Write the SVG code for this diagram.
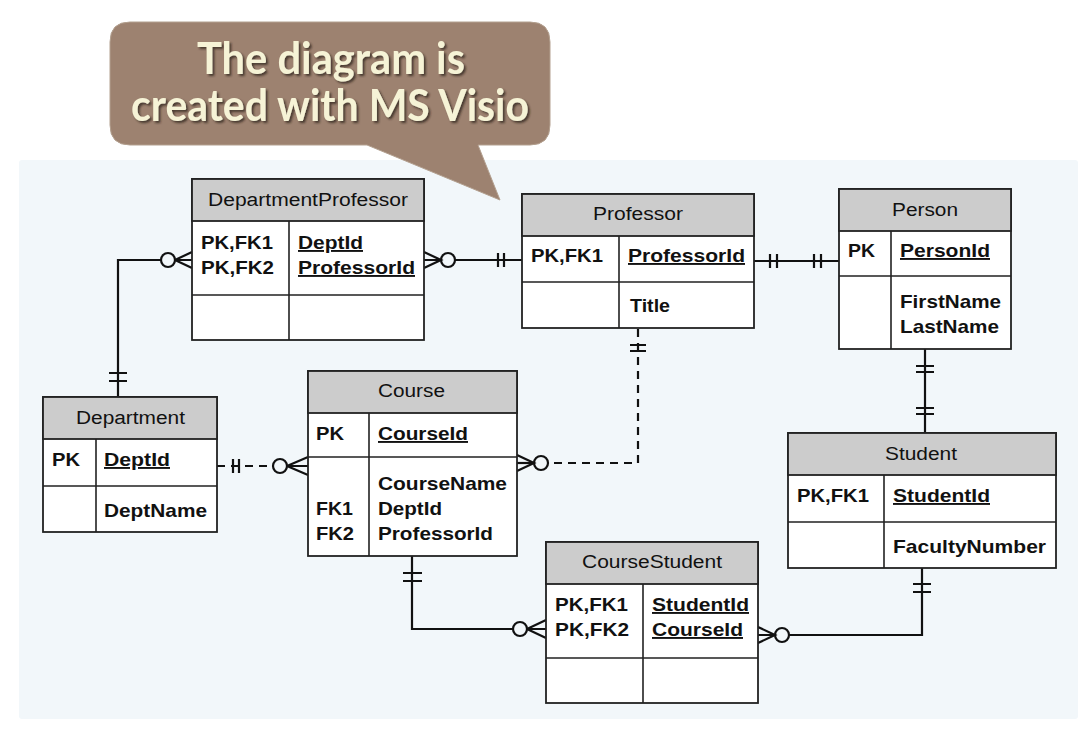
<svg xmlns="http://www.w3.org/2000/svg" width="1092" height="729" viewBox="0 0 1092 729">
  <defs>
    <style>
      .hdr{fill:#cccccc;stroke:#222;stroke-width:1.8}
      .body{fill:#ffffff;stroke:#222;stroke-width:1.8}
      .sep{stroke:#222;stroke-width:1.6;fill:none}
      .ht{font-family:"Liberation Sans",Arial,sans-serif;font-size:18px;fill:#111}
      .bt{font-family:"Liberation Sans",Arial,sans-serif;font-size:19px;font-weight:bold;fill:#111}
      .u{text-decoration:underline}
      .ln{stroke:#111;stroke-width:2.2;fill:none}
      .dash{stroke:#111;stroke-width:2.2;fill:none;stroke-dasharray:8 6}
      .circ{stroke:#111;stroke-width:2.2;fill:#f2f7fa}
      .call{font-family:Lato,"Open Sans",sans-serif;font-size:44px;font-weight:bold;fill:#f6f3d6}
    </style>
    <filter id="sh" x="-10%" y="-20%" width="120%" height="150%">
      <feDropShadow dx="2" dy="2" stdDeviation="1" flood-color="#2e231b" flood-opacity="0.75"/>
    </filter>
  </defs>

  <!-- background panel -->
  <rect x="19" y="160" width="1059" height="559" rx="3" fill="#f2f7fa"/>

  <!-- callout -->
  <g id="callout">
    <path d="M130,22 H530 Q550,22 550,42 V125 Q550,145 530,145 H478 L500,200 L367,145 H130 Q110,145 110,125 V42 Q110,22 130,22 Z" fill="#9d8270" stroke="#b3a08f" stroke-width="1"/>
    <g filter="url(#sh)">
      <text class="call" x="197" y="74" textLength="268" lengthAdjust="spacingAndGlyphs">The diagram is</text>
      <text class="call" x="131" y="121" textLength="398" lengthAdjust="spacingAndGlyphs">created with MS Visio</text>
    </g>
  </g>

  <!-- connectors -->
  <g id="connectors">
    <!-- DepartmentProfessor left - Department top -->
    <path class="ln" d="M118,397 V260 H192"/>
    <circle class="circ" cx="168" cy="260" r="7"/>
    <path class="ln" d="M175,260 L192,252 M175,260 L192,268"/>
    <path class="ln" d="M109,373 H127 M109,381 H127"/>

    <!-- DepartmentProfessor right - Professor left -->
    <path class="ln" d="M424,260 H522"/>
    <circle class="circ" cx="448" cy="260" r="7"/>
    <path class="ln" d="M424,252 L441,260 L424,268"/>
    <path class="ln" d="M498,253 V267 M504,253 V267"/>

    <!-- Professor - Person -->
    <path class="ln" d="M754,261 H839"/>
    <path class="ln" d="M770,254 V268 M777,254 V268 M814,254 V268 M821,254 V268"/>

    <!-- Professor bottom - Course right (dashed) -->
    <path class="dash" d="M638,329 V463 H548"/>
    <path class="ln" d="M630,345 H646 M630,351 H646"/>
    <path class="ln" d="M517,463 H534"/>
    <circle class="circ" cx="541" cy="463" r="7"/>
    <path class="ln" d="M517,455 L534,463 L517,471"/>

    <!-- Department - Course (dashed) -->
    <path class="dash" d="M217,466 H273"/>
    <path class="ln" d="M233,466 H239 M233,459 V473 M239,459 V473"/>
    <circle class="circ" cx="280" cy="466" r="7"/>
    <path class="ln" d="M287,466 H308 M287,466 L308,457 M287,466 L308,475"/>

    <!-- Course bottom - CourseStudent left -->
    <path class="ln" d="M412,556 V629 H546"/>
    <path class="ln" d="M403,573 H422 M403,581 H422"/>
    <circle class="circ" cx="520" cy="629" r="7"/>
    <path class="ln" d="M527,629 L546,620 M527,629 L546,638"/>

    <!-- Person - Student -->
    <path class="ln" d="M925,349 V433"/>
    <path class="ln" d="M916,366 H934 M916,372 H934 M916,408 H934 M916,414 H934"/>

    <!-- Student bottom - CourseStudent right -->
    <path class="ln" d="M922,568 V635 H758"/>
    <path class="ln" d="M913,584 H931 M913,592 H931"/>
    <circle class="circ" cx="782" cy="635" r="7"/>
    <path class="ln" d="M758,627 L775,635 L758,643"/>
  </g>

  <!-- DepartmentProfessor -->
  <g id="DepartmentProfessor">
    <rect class="body" x="192" y="179" width="232" height="161"/>
    <rect class="hdr" x="192" y="179" width="232" height="42"/>
    <path class="sep" d="M192,295 H424 M289,221 V340"/>
    <text class="ht" x="208" y="206" textLength="200" lengthAdjust="spacingAndGlyphs">DepartmentProfessor</text>
    <text class="bt" x="201" y="249" textLength="72" lengthAdjust="spacingAndGlyphs">PK,FK1</text>
    <text class="bt" x="201" y="274" textLength="73" lengthAdjust="spacingAndGlyphs">PK,FK2</text>
    <text class="bt u" x="298" y="249" textLength="65" lengthAdjust="spacingAndGlyphs">DeptId</text>
    <text class="bt u" x="298" y="274" textLength="117" lengthAdjust="spacingAndGlyphs">ProfessorId</text>
  </g>

  <!-- Professor -->
  <g id="Professor">
    <rect class="body" x="522" y="194" width="232" height="134"/>
    <rect class="hdr" x="522" y="194" width="232" height="42"/>
    <path class="sep" d="M522,282 H754 M619,236 V328"/>
    <text class="ht" x="593" y="220" textLength="90" lengthAdjust="spacingAndGlyphs">Professor</text>
    <text class="bt" x="531" y="262" textLength="72" lengthAdjust="spacingAndGlyphs">PK,FK1</text>
    <text class="bt u" x="628" y="262" textLength="117" lengthAdjust="spacingAndGlyphs">ProfessorId</text>
    <text class="bt" x="630" y="312" textLength="40" lengthAdjust="spacingAndGlyphs">Title</text>
  </g>

  <!-- Person -->
  <g id="Person">
    <rect class="body" x="839" y="189" width="172" height="160"/>
    <rect class="hdr" x="839" y="189" width="172" height="42"/>
    <path class="sep" d="M839,276 H1011 M891,231 V349"/>
    <text class="ht" x="892" y="216" textLength="66" lengthAdjust="spacingAndGlyphs">Person</text>
    <text class="bt" x="848" y="257" textLength="27" lengthAdjust="spacingAndGlyphs">PK</text>
    <text class="bt u" x="900" y="257" textLength="90" lengthAdjust="spacingAndGlyphs">PersonId</text>
    <text class="bt" x="900" y="308" textLength="101" lengthAdjust="spacingAndGlyphs">FirstName</text>
    <text class="bt" x="900" y="333" textLength="99" lengthAdjust="spacingAndGlyphs">LastName</text>
  </g>

  <!-- Department -->
  <g id="Department">
    <rect class="body" x="43" y="397" width="174" height="135"/>
    <rect class="hdr" x="43" y="397" width="174" height="42"/>
    <path class="sep" d="M43,486 H217 M96,439 V532"/>
    <text class="ht" x="76" y="424" textLength="109" lengthAdjust="spacingAndGlyphs">Department</text>
    <text class="bt" x="52" y="466" textLength="28" lengthAdjust="spacingAndGlyphs">PK</text>
    <text class="bt u" x="104" y="466" textLength="66" lengthAdjust="spacingAndGlyphs">DeptId</text>
    <text class="bt" x="104" y="517" textLength="103" lengthAdjust="spacingAndGlyphs">DeptName</text>
  </g>

  <!-- Course -->
  <g id="Course">
    <rect class="body" x="308" y="371" width="209" height="185"/>
    <rect class="hdr" x="308" y="371" width="209" height="42"/>
    <path class="sep" d="M308,457 H517 M369,413 V556"/>
    <text class="ht" x="378" y="397" textLength="67" lengthAdjust="spacingAndGlyphs">Course</text>
    <text class="bt" x="316" y="440" textLength="28" lengthAdjust="spacingAndGlyphs">PK</text>
    <text class="bt u" x="378" y="440" textLength="90" lengthAdjust="spacingAndGlyphs">CourseId</text>
    <text class="bt" x="378" y="490" textLength="129" lengthAdjust="spacingAndGlyphs">CourseName</text>
    <text class="bt" x="316" y="515" textLength="37" lengthAdjust="spacingAndGlyphs">FK1</text>
    <text class="bt" x="378" y="515" textLength="64" lengthAdjust="spacingAndGlyphs">DeptId</text>
    <text class="bt" x="316" y="540" textLength="38" lengthAdjust="spacingAndGlyphs">FK2</text>
    <text class="bt" x="378" y="540" textLength="115" lengthAdjust="spacingAndGlyphs">ProfessorId</text>
  </g>

  <!-- Student -->
  <g id="Student">
    <rect class="body" x="788" y="433" width="268" height="135"/>
    <rect class="hdr" x="788" y="433" width="268" height="42"/>
    <path class="sep" d="M788,522 H1056 M884,475 V568"/>
    <text class="ht" x="885" y="460" textLength="72" lengthAdjust="spacingAndGlyphs">Student</text>
    <text class="bt" x="797" y="502" textLength="72" lengthAdjust="spacingAndGlyphs">PK,FK1</text>
    <text class="bt u" x="893" y="502" textLength="97" lengthAdjust="spacingAndGlyphs">StudentId</text>
    <text class="bt" x="893" y="553" textLength="153" lengthAdjust="spacingAndGlyphs">FacultyNumber</text>
  </g>

  <!-- CourseStudent -->
  <g id="CourseStudent">
    <rect class="body" x="546" y="542" width="212" height="161"/>
    <rect class="hdr" x="546" y="542" width="212" height="42"/>
    <path class="sep" d="M546,658 H758 M643,584 V703"/>
    <text class="ht" x="582" y="568" textLength="140" lengthAdjust="spacingAndGlyphs">CourseStudent</text>
    <text class="bt" x="555" y="611" textLength="73" lengthAdjust="spacingAndGlyphs">PK,FK1</text>
    <text class="bt" x="555" y="636" textLength="74" lengthAdjust="spacingAndGlyphs">PK,FK2</text>
    <text class="bt u" x="652" y="611" textLength="97" lengthAdjust="spacingAndGlyphs">StudentId</text>
    <text class="bt u" x="652" y="636" textLength="91" lengthAdjust="spacingAndGlyphs">CourseId</text>
  </g>
</svg>
